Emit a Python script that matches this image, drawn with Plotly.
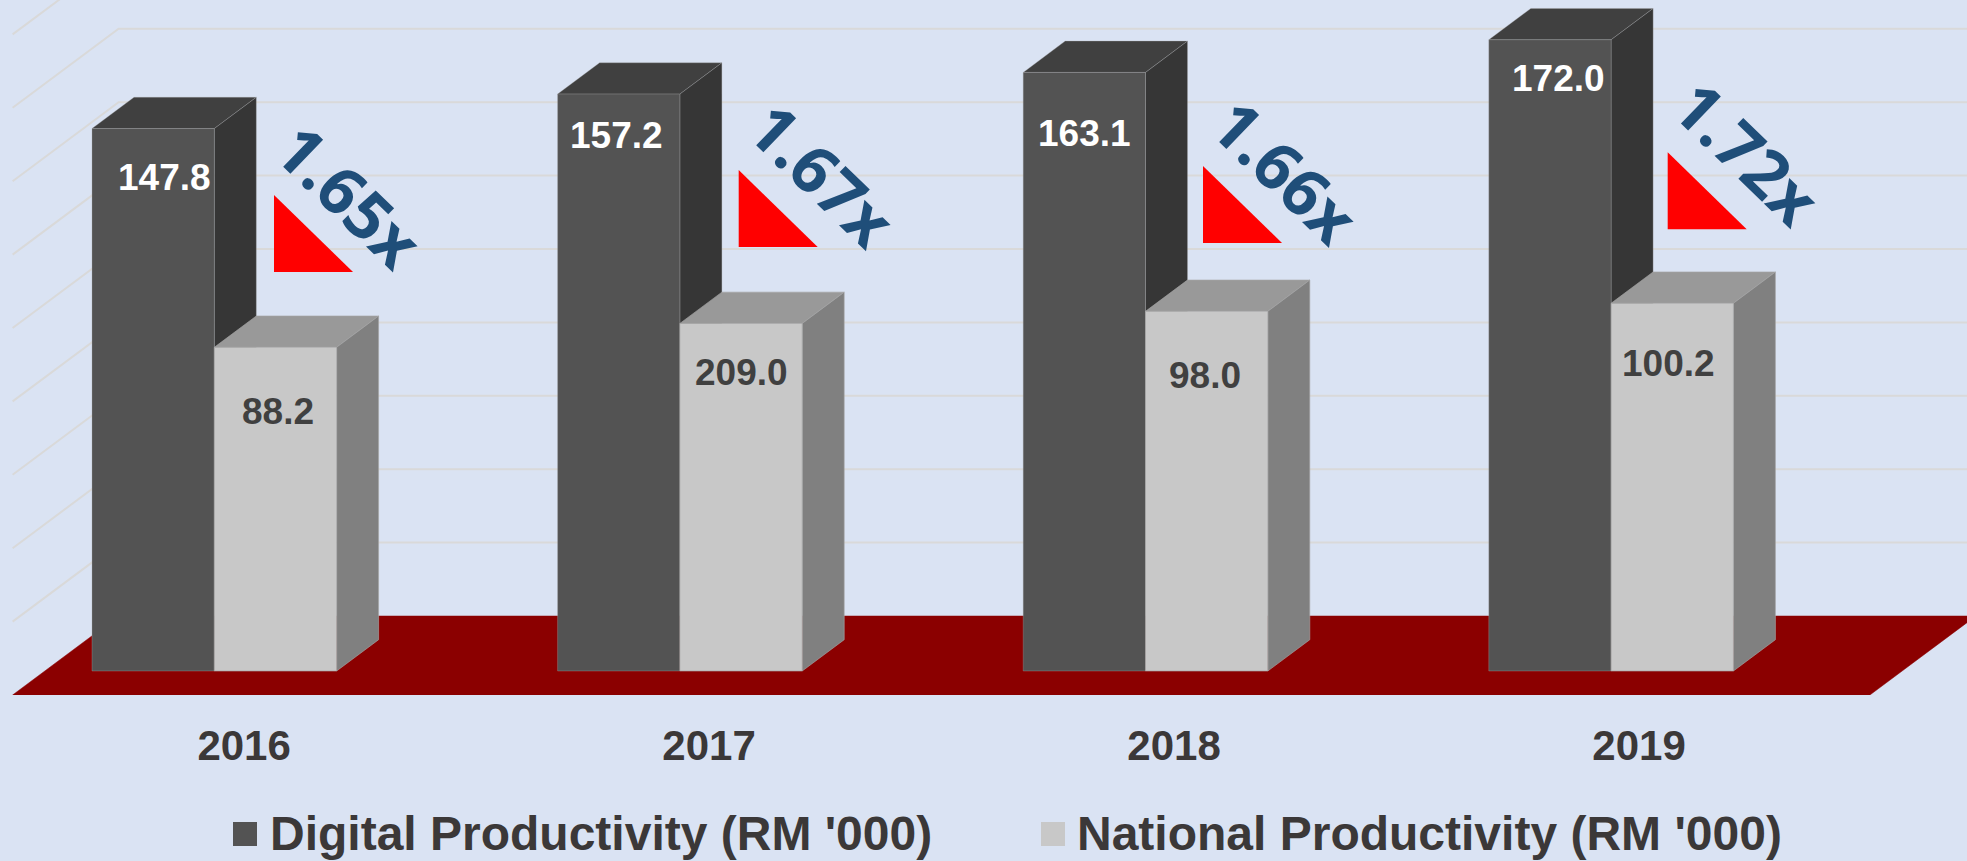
import plotly.graph_objects as go

W, H = 1967, 861

# ---- data ----
years = ["2016", "2017", "2018", "2019"]
digital = [147.8, 157.2, 163.1, 172.0]
national = [88.2, 94.7, 98.0, 100.2]
digital_labels = ["147.8", "157.2", "163.1", "172.0"]
national_labels = ["88.2", "209.0", "98.0", "100.2"]
ratios = ["1.65x", "1.67x", "1.66x", "1.72x"]
grid_values = [20, 40, 60, 80, 100, 120, 140, 160, 180]
series_names = ["Digital Productivity (RM '000)", "National Productivity (RM '000)"]

# ---- hand-placed overlay positions (pixels on the page) ----
digital_label_xy = [(164, 178), (616, 135.5), (1084, 133), (1558, 78)]
national_label_xy = [(278, 411), (741, 372.5), (1204.5, 375), (1668, 363)]
ratio_xy = [(350, 195), (823.3, 173.7), (1285.5, 170.3), (1748, 151.7)]
triangle_xy = [(274, 195), (738.7, 170), (1203, 166), (1667.7, 152.3)]
TRI_W, TRI_H = 79, 77

# ---- scale / projection ----
PX_X = 465.6            # pixels per category
PX_Y = 3.67             # pixels per value unit
X0_PX = 214.3           # pixel of category 0 centre
Y0_PX = 671.0           # pixel of value 0 at the bar fronts
PLOT_BOTTOM = 695.0
BAR_W = 122.3 / PX_X
KX = 42.0 / PX_X        # x shift per unit of depth
KY = 31.3 / PX_Y        # y shift per unit of depth
FLOOR_Z0, FLOOR_Z1 = -0.767, 1.757
FLOOR_X0, FLOOR_X1 = -0.364, 3.625
TICK_SHIFT = 0.0640
TICK_STEP = 0.9987

INK = "#3B3838"
BG = "#DAE3F3"
C_DARK = dict(front="#535353", side="#363636", top="#404040")
C_LIGHT = dict(front="#C8C8C8", side="#808080", top="#999999")
EDGE_DARK = "rgba(166,166,166,0.4)"
EDGE_LIGHT = "rgba(166,166,166,0.8)"


def proj(x, y, z):
    return x + z * KX, y + z * KY


fig = go.Figure()


def poly(points, fill, line=None, width=1.0, name=""):
    xs = [p[0] for p in points] + [points[0][0]]
    ys = [p[1] for p in points] + [points[0][1]]
    fig.add_trace(go.Scatter(x=xs, y=ys, mode="lines", fill="toself", fillcolor=fill,
                             line=dict(color=line or fill, width=width),
                             hoverinfo="skip" if not name else "text", text=name,
                             showlegend=False))


# grid on the back and side walls
for g in grid_values:
    a = proj(FLOOR_X0, g, FLOOR_Z0)
    b = proj(FLOOR_X0, g, FLOOR_Z1)
    c = proj(FLOOR_X1, g, FLOOR_Z1)
    fig.add_trace(go.Scatter(x=[a[0], b[0], c[0]], y=[a[1], b[1], c[1]], mode="lines",
                             line=dict(color="#D9D9D9", width=2),
                             hoverinfo="skip", showlegend=False))

# floor
poly([proj(FLOOR_X0, 0, FLOOR_Z0), proj(FLOOR_X1, 0, FLOOR_Z0),
      proj(FLOOR_X1, 0, FLOOR_Z1), proj(FLOOR_X0, 0, FLOOR_Z1)],
     "#8B0000", line="#8B0000", width=0.5)


def box(x0, x1, v, colors, edge, name):
    poly([proj(x0, v, 0), proj(x1, v, 0), proj(x1, v, 1), proj(x0, v, 1)], colors["top"], edge, 0.8)
    poly([proj(x1, 0, 0), proj(x1, v, 0), proj(x1, v, 1), proj(x1, 0, 1)], colors["side"], edge, 0.8)
    poly([(x0, 0), (x1, 0), (x1, v), (x0, v)], colors["front"], edge, 0.8, name=name)


for i, y in enumerate(years):
    box(i - BAR_W, i, digital[i], C_DARK, EDGE_DARK, f"{y} {series_names[0]}: {digital_labels[i]}")
    box(i, i + BAR_W, national[i], C_LIGHT, EDGE_LIGHT, f"{y} {series_names[1]}: {national_labels[i]}")


def px(x):
    return x / W


def py(y):
    return 1 - y / H


annotations = []


def note(text, x, y, size, color, family="Liberation Sans", weight=700, angle=0, xanchor="center"):
    annotations.append(dict(text=text, x=px(x), y=py(y),
                            xref="paper", yref="paper", xanchor=xanchor, yanchor="middle",
                            showarrow=False, textangle=angle,
                            font=dict(family=family, size=size, color=color, weight=weight)))


for i in range(len(years)):
    note(digital_labels[i], *digital_label_xy[i], 37, "#FFFFFF")
    note(national_labels[i], *national_label_xy[i], 37, "#404040")
    note(ratios[i], *ratio_xy[i], 66, "#1F4E79", family="Open Sans", weight=700, angle=44)

shapes = []
for (tx, ty) in triangle_xy:
    shapes.append(dict(type="path", xref="paper", yref="paper", layer="above",
                       path=f"M{px(tx)},{py(ty)} L{px(tx)},{py(ty + TRI_H)} L{px(tx + TRI_W)},{py(ty + TRI_H)} Z",
                       fillcolor="#FF0000", line=dict(width=0)))

# legend
for sx, col in [(233, C_DARK["front"]), (1041, C_LIGHT["front"])]:
    shapes.append(dict(type="rect", xref="paper", yref="paper", layer="above",
                       x0=px(sx), x1=px(sx + 24), y0=py(846), y1=py(822),
                       fillcolor=col, line=dict(width=0)))
note(series_names[0], 268, 833, 48, INK, xanchor="left")
note(series_names[1], 1075, 833, 48, INK, xanchor="left")

fig.update_layout(
    width=W, height=H, margin=dict(l=0, r=0, t=0, b=0),
    paper_bgcolor=BG, plot_bgcolor=BG, showlegend=False,
    xaxis=dict(range=[-X0_PX / PX_X, (W - X0_PX) / PX_X], domain=[0, 1],
               tickmode="array", tickvals=[i * TICK_STEP + TICK_SHIFT for i in range(len(years))],
               ticktext=[f"<b>{y}</b>" for y in years], ticks="", showgrid=False,
               zeroline=False, showline=False, ticklabelstandoff=22,
               tickfont=dict(family="Liberation Sans", size=42, color=INK)),
    yaxis=dict(range=[-(PLOT_BOTTOM - Y0_PX) / PX_Y, Y0_PX / PX_Y],
               domain=[1 - PLOT_BOTTOM / H, 1], showticklabels=False, ticks="",
               showgrid=False, zeroline=False, showline=False),
    shapes=shapes, annotations=annotations,
)

fig.write_html("out.html", config={"displayModeBar": False}, post_script=(
    "document.body.style.margin='0';document.body.style.overflow='hidden';"
    f"document.body.style.background='{BG}';"
))
